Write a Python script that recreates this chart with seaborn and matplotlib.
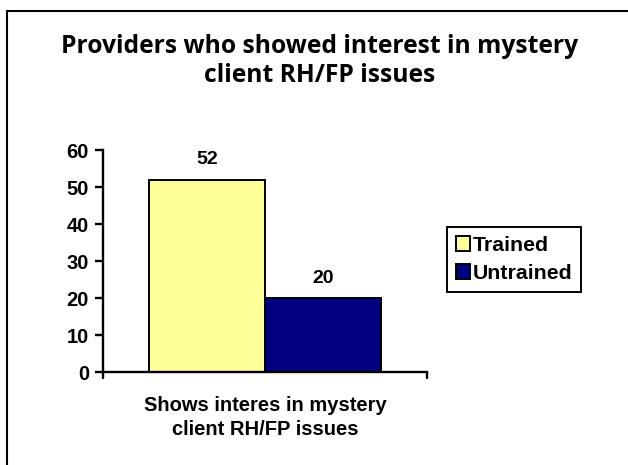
import matplotlib
matplotlib.use("Agg")
import matplotlib.pyplot as plt
import seaborn as sns
import pandas as pd
from matplotlib.patches import Rectangle

categories = ["Shows interes in mystery\nclient RH/FP issues"]
series = ["Trained", "Untrained"]
trained = [52]
untrained = [20]
colors = ["#FFFF99", "#000080"]
yticks = [0, 10, 20, 30, 40, 50, 60]

df = pd.DataFrame({
    "cat": categories * 2,
    "series": ["Trained"] * len(trained) + ["Untrained"] * len(untrained),
    "value": trained + untrained,
})

sns.set_theme(style="white")
plt.rcParams['font.family'] = ['Liberation Sans', 'DejaVu Sans']
plt.rcParams['text.color'] = 'black'
plt.rcParams['axes.labelcolor'] = 'black'
plt.rcParams['xtick.color'] = 'black'
plt.rcParams['ytick.color'] = 'black'

fig = plt.figure(figsize=(6.28, 4.65), dpi=100)
ax = fig.add_axes([103/628, 1 - 372/465, (427 - 103)/628, (372 - 150)/465])

sns.barplot(data=df, x="cat", y="value", hue="series", palette=colors, saturation=1,
            width=0.716, edgecolor="black", linewidth=1.4, ax=ax, legend=True)

ax.set_ylim(0, 60)
ax.set_xlim(-0.5, 0.5)
ax.set_yticks(yticks)
ax.set_yticklabels([str(t) for t in yticks], fontsize=14.5, fontweight="bold", color="black")
ax.set_xticks([])
ax.set_xlabel(categories[0], fontsize=14.5, fontweight="bold", labelpad=17,
              linespacing=1.35, color="black")
ax.set_ylabel("")
for s in ["top", "right"]:
    ax.spines[s].set_visible(False)
for s in ["left", "bottom"]:
    ax.spines[s].set_color("black")
    ax.spines[s].set_linewidth(1.7)
ax.tick_params(axis="y", direction="out", length=6, width=1.7, color="black", pad=4, left=True)

# tick marks at x-axis ends
ax.plot([-0.5, -0.5], [0, -1.6], color="black", lw=1.7, clip_on=False)
ax.plot([0.5, 0.5], [0, -1.6], color="black", lw=1.7, clip_on=False)

for cont in ax.containers:
    ax.bar_label(cont, fontsize=14, fontweight="bold", padding=8, color="black")

leg = ax.get_legend()
leg.remove()
handles = [Rectangle((0, 0), 1, 1, facecolor=c, edgecolor="black", linewidth=1.4) for c in colors]
fig.legend(handles, series, loc="center left", bbox_to_anchor=(447/628, 1 - 259.5/465),
           frameon=True, fancybox=False, edgecolor="black", framealpha=1,
           prop={"weight": "bold", "size": 15.3}, handlelength=0.7, handleheight=0.7,
           handletextpad=0.12, borderpad=0.4, labelspacing=0.45, borderaxespad=0)
fig.legends[0].get_frame().set_linewidth(1.4)

fig.text(320/628, 1 - 61/465, "Providers who showed interest in mystery\nclient RH/FP issues",
         ha="center", va="center", fontsize=17.7, fontweight="bold",
         family=["Open Sans", "DejaVu Sans"], linespacing=1.22)

# outer frame
fig.patches.append(Rectangle((7/628, -0.1), 1.1, 1 - 11/465 + 0.1, transform=fig.transFigure,
                             fill=False, edgecolor="black", linewidth=1.5))

fig.savefig("out.png", dpi=100)
